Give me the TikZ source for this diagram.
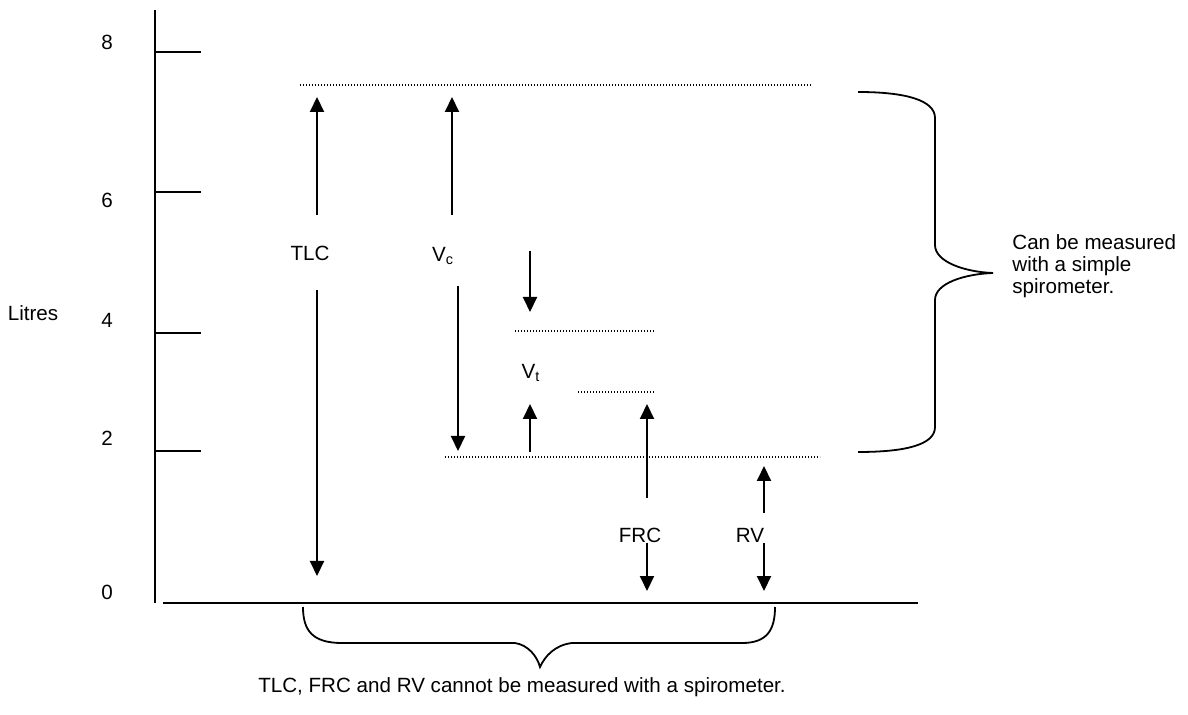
\documentclass[tikz,border=0pt]{standalone}
\usepackage{fontspec}
\setmainfont{Liberation Sans}
\usetikzlibrary{arrows.meta}
\tikzset{
  axis/.style={line width=0.9pt},
  lvl/.style={line width=0.6pt,dash pattern=on 0.6pt off 0.9pt},
  arr/.style={-{Triangle[length=7.5pt,width=7pt]},line width=1pt},
  txt/.style={font=\fontsize{10.3}{11}\selectfont,inner sep=0pt},
  brc/.style={line width=0.9pt},
}

\begin{document}
\begin{tikzpicture}[x=0.5pt,y=-0.5pt]
\useasboundingbox (0,0) rectangle (1188,715);

% axis and ticks
\draw[axis] (155,10) -- (155,603);
\draw[axis] (163,603) -- (918,603);
\foreach \yy in {52,192,333,451}
  \draw[axis] (155,\yy) -- (201,\yy);
\node[txt] (y8) at (107,42)  {8};
\node[txt] (y6) at (107,200) {6};
\node[txt] (y4) at (107,320) {4};
\node[txt] (y2) at (107,438) {2};
\node[txt] (y0) at (107,592) {0};
\node[txt] (litres) at (33,313) {Litres};

% volume levels
\draw[lvl] (300,85) -- (812,85);
\draw[lvl] (515,331) -- (655,331);
\draw[lvl] (578,392) -- (655,392);
\draw[lvl] (445,457) -- (820,457);

% labels
\node[txt] (tlc) at (310,253) {TLC};
\node[txt] (vc)  at (443,256) {V\textsubscript{c}};
\node[txt] (vt)  at (531,373) {V\textsubscript{t}};
\node[txt] (frc) at (640,535) {FRC};
\node[txt] (rv)  at (750,535) {RV};

% arrow ends
\coordinate (tlcA) at (317,215); \coordinate (tlcB) at (317,97);
\coordinate (tlcC) at (317,290); \coordinate (tlcD) at (317,576);
\coordinate (vcA)  at (452,215); \coordinate (vcB)  at (452,97);
\coordinate (vcC)  at (458,286); \coordinate (vcD)  at (458,451);
\coordinate (vtA)  at (530,251); \coordinate (vtB)  at (530,312);
\coordinate (vtC)  at (530,452); \coordinate (vtD)  at (530,404);
\coordinate (frcA) at (647,498); \coordinate (frcB) at (647,404);
\coordinate (frcC) at (647,543); \coordinate (frcD) at (647,591);
\coordinate (rvA)  at (764,513); \coordinate (rvB)  at (764,466);
\coordinate (rvC)  at (764,543); \coordinate (rvD)  at (764,591);

\draw[arr] (tlcA) -- (tlcB);
\draw[arr] (tlcC) -- (tlcD);
\draw[arr] (vcA) -- (vcB);
\draw[arr] (vcC) -- (vcD);
\draw[arr] (vtA) -- (vtB);
\draw[arr] (vtC) -- (vtD);
\draw[arr] (frcA) -- (frcB);
\draw[arr] (frcC) -- (frcD);
\draw[arr] (rvA) -- (rvB);
\draw[arr] (rvC) -- (rvD);

% braces
\draw[brc] (858,92) .. controls (905,92) and (935,100) .. (935,118)
  -- (935,245) .. controls (935,262) and (965,272) .. (993,273)
  .. controls (965,274) and (935,283) .. (935,300)
  -- (935,427) .. controls (935,445) and (905,452) .. (858,452);
\node[txt,anchor=west,align=left] (simple) at (1012,266)
  {Can be measured\\with a simple\\spirometer.};

\draw[brc] (303,607) .. controls (303,630) and (312,643) .. (342,643)
  -- (515,643) .. controls (528,645) and (537,656) .. (540,667)
  .. controls (545,656) and (555,645) .. (572,643)
  -- (742,643) .. controls (767,643) and (775,630) .. (775,607);
\node[txt] (nospiro) at (522,687)
  {TLC, FRC and RV cannot be measured with a spirometer.};
\end{tikzpicture}
\end{document}
